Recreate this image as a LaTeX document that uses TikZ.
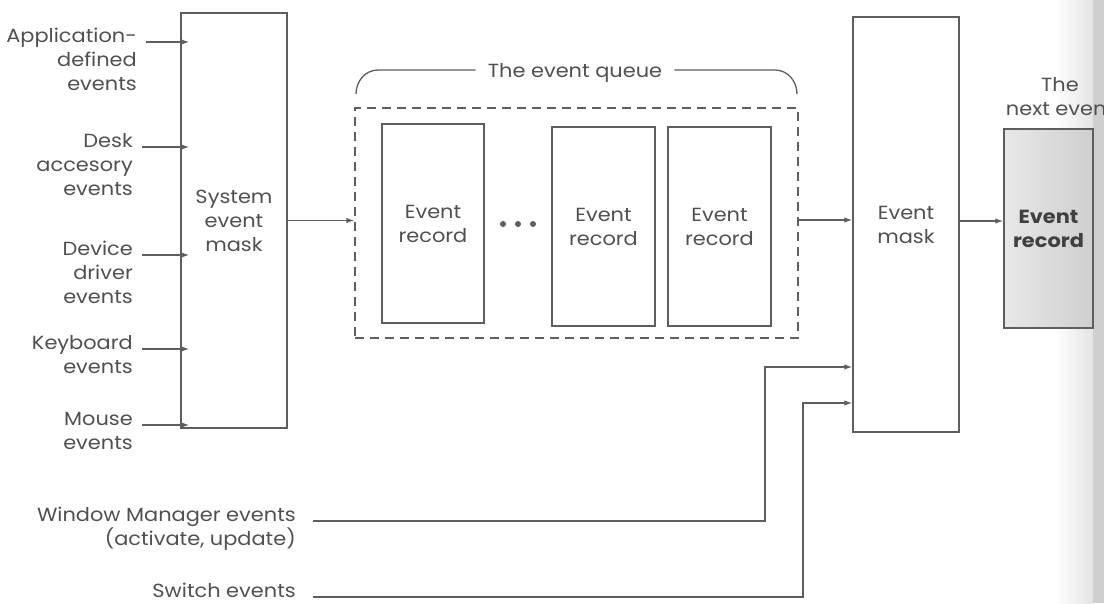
\documentclass[tikz,border=0pt]{standalone}
\usepackage{fontspec}
\setmainfont{Poppins}[FakeStretch=1.1]
\usetikzlibrary{arrows.meta,positioning}
\definecolor{ink}{HTML}{5E5E5E}
\definecolor{txt}{HTML}{505050}
\tikzset{
  box/.style={draw=ink, line width=1.4pt, inner sep=0pt, text=txt, align=center},
  lab/.style={inner sep=0pt, text=txt, align=right, anchor=base east},
  conn/.style={draw=ink, line width=1.3pt},
  arr/.style={conn, -{Latex[length=8pt,width=5.5pt]}},
  dot/.style={circle, fill=ink, inner sep=0pt, minimum size=6pt}
}
\begin{document}
\begin{tikzpicture}[x=1pt,y=-1pt, font=\fontsize{19}{24}\selectfont]
\useasboundingbox (0,0) rectangle (1104,603);
% page edge shading
\shade[left color=white, right color=gray!22] (1056,0) rectangle (1093,603);
\fill[gray!38] (1093,0) rectangle (1104,603);
% System event mask
\node[box, minimum width=106pt, minimum height=415pt] (sysmask) at (234,220.5) {System\\event\\mask};
% inputs (base anchor = last line)
\node[lab] (app) at (137,90) {Application-\\defined\\events};
\node[lab] (desk) at (133,195) {Desk\\accesory\\events};
\node[lab] (dev) at (133,303) {Device\\driver\\events};
\node[lab] (kbd) at (133,373) {Keyboard\\events};
\node[lab] (mouse) at (133,449) {Mouse\\events};
\foreach \n/\s in {app/48,desk/48,dev/48,kbd/24,mouse/24}{
  \draw[arr] ([xshift=9pt,yshift=\s pt]\n.base east) -- ([xshift=9pt,yshift=\s pt]\n.base east -| sysmask.west);
}
% queue
\node[draw=ink, dashed, dash pattern=on 9pt off 6pt, line width=1.3pt, minimum width=443pt, minimum height=230pt, inner sep=0pt] (queue) at (576.5,223) {};
\node[box, minimum width=102pt, minimum height=199pt] (er1) at (433,223.5) {Event\\record};
\node[box, minimum width=103pt, minimum height=199pt] (er2) at (603.5,226.5) {Event\\record};
\node[box, minimum width=103pt, minimum height=199pt] (er3) at (719.5,226.5) {Event\\record};
\node[dot] (d1) at (503,224) {};
\node[dot] (d2) at (518,224) {};
\node[dot] (d3) at (533,224) {};
% queue label with bracket
\node[inner sep=0pt, text=txt, anchor=base] (qlab) at (575,77) {The event queue};
\coordinate (bl) at (356,94);
\coordinate (br) at (797,94);
\draw[conn] (bl) to[out=90,in=180] (378,70) -- ([xshift=-12pt]qlab.west |- 0,70);
\draw[conn] ([xshift=12pt]qlab.east |- 0,70) -- (775,70) to[out=0,in=90] (br);
\draw[arr] (sysmask.east) -- (sysmask.east -| queue.west);
% event mask
\node[box, minimum width=106pt, minimum height=415pt] (evmask) at (906,224.5) {Event\\mask};
\draw[arr] (queue.east |- 0,220) -- (evmask.west |- 0,220);
% next event
\node[box, shade, left color=gray!18, right color=gray!38, minimum width=89pt, minimum height=199pt, text=txt!80!black, font=\fontsize{19}{24}\selectfont\bfseries] (next) at (1048.5,228.5) {Event\\record};
\node[inner sep=0pt, text=txt, align=center, anchor=base] (nlab) at (1060,115) {The\\next event};
\draw[arr] (evmask.east |- 0,221) -- (next.west |- 0,221);
% window manager / switch
\node[lab] (wm) at (296,545) {Window Manager events\\(activate, update)};
\node[lab] (sw) at (296,597) {Switch events};
\coordinate (wmc) at (765,521);
\coordinate (swc) at (803,597);
\draw[arr] ([xshift=17pt,yshift=24pt]wm.base east) -- (wmc) -- (wmc |- 0,367) -- (evmask.west |- 0,367);
\draw[arr] ([xshift=17pt]sw.base east) -- (swc) -- (swc |- 0,403) -- (evmask.west |- 0,403);
\end{tikzpicture}
\end{document}
